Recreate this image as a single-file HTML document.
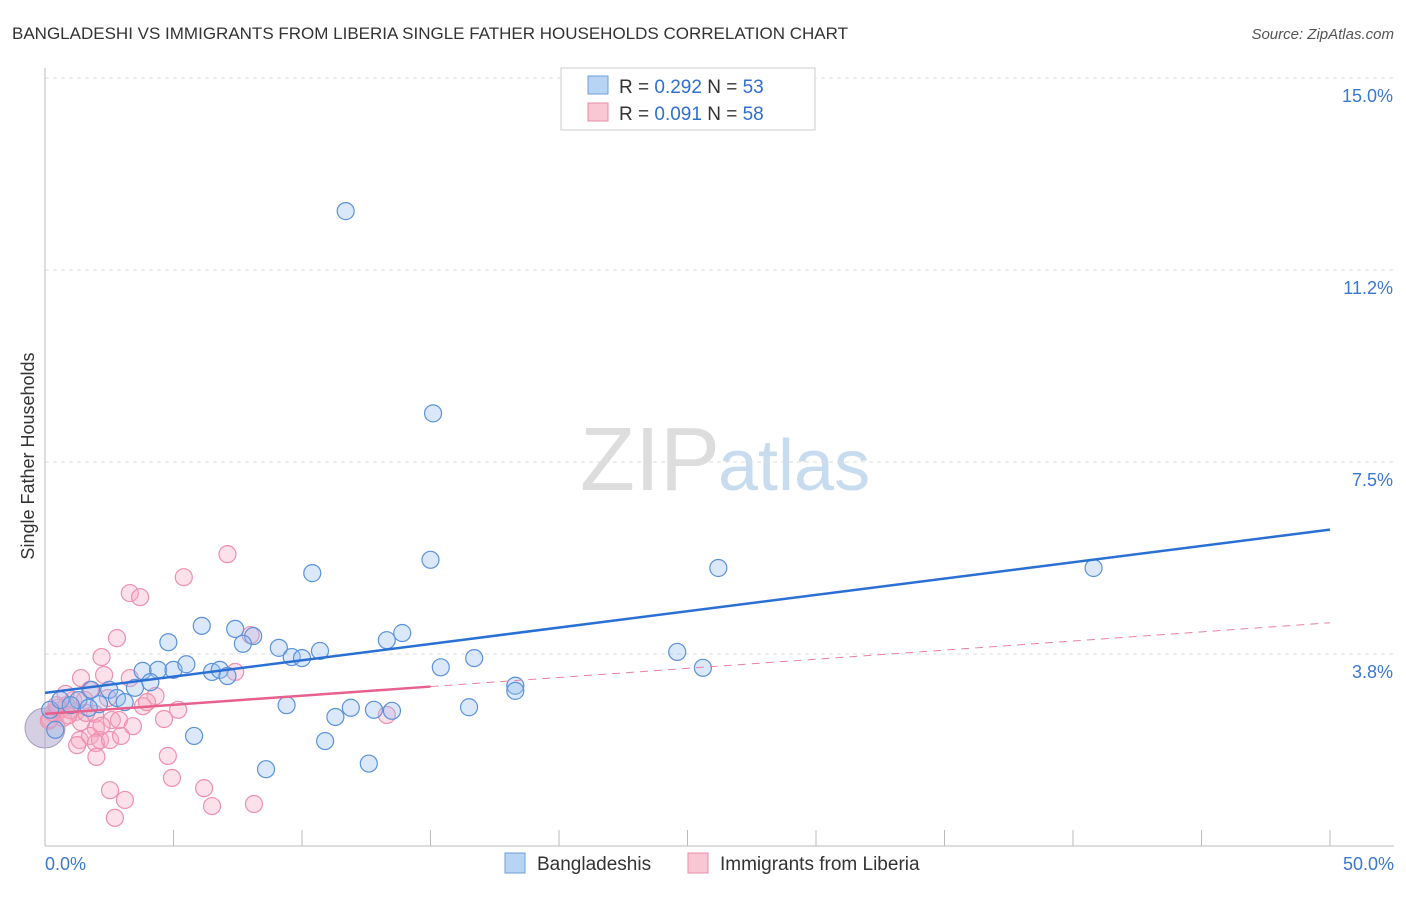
<!DOCTYPE html>
<html><head><meta charset="utf-8"><style>
body{margin:0;background:#fff;font-family:"Liberation Sans",sans-serif}
svg text{font-family:"Liberation Sans",sans-serif}
</style></head><body>
<svg id="c" width="1406" height="892">
<text x="12" y="39" font-size="17" fill="#333">BANGLADESHI VS IMMIGRANTS FROM LIBERIA SINGLE FATHER HOUSEHOLDS CORRELATION CHART</text>
<text x="1394" y="39" font-size="15" fill="#555" font-style="italic" text-anchor="end">Source: ZipAtlas.com</text>
<text x="34" y="456" font-size="18" fill="#333" text-anchor="middle" transform="rotate(-90 34 456)">Single Father Households</text>
<text x="720" y="490" font-size="90" fill="#ddd" text-anchor="end" font-family="Liberation Serif">ZIP</text>
<text x="718" y="490" font-size="72" fill="#c8dcf0">atlas</text>
<g id="grid"></g><g id="pts"></g><g id="lines"></g>
<g>
<rect x="561" y="68" width="254" height="62" fill="#fff" stroke="#ccc"/>
<rect x="588" y="76" width="20" height="18" fill="#b8d4f4" stroke="#6d9edc"/>
<rect x="588" y="103" width="20" height="18" fill="#f9c6d4" stroke="#ea8eaa"/>
<text x="619" y="93" font-size="19" fill="#333">R = <tspan fill="#2f6fd0">0.292</tspan>   N = <tspan fill="#2f6fd0">53</tspan></text>
<text x="619" y="120" font-size="19" fill="#333">R = <tspan fill="#2f6fd0">0.091</tspan>   N = <tspan fill="#2f6fd0">58</tspan></text>
</g>
<g>
<rect x="505" y="853" width="20" height="20" fill="#b8d4f4" stroke="#6d9edc"/>
<text x="537" y="870" font-size="19" fill="#333">Bangladeshis</text>
<rect x="688" y="853" width="20" height="20" fill="#f9c6d4" stroke="#ea8eaa"/>
<text x="720" y="870" font-size="19" fill="#333">Immigrants from Liberia</text>
</g>
</svg>
<script>
const yTicks=[3.75,7.5,11.25,15];
const yTickLabels=["3.8%","7.5%","11.2%","15.0%"];
const xTickLabels=["0.0%","50.0%"];
const blueX=[11.7,15.1,15,26.2,40.8,10.4,6.1,7.4,8.1,7.7,4.8,9.1,10.7,13.3,13.9,9.6,10,16.7,15.4,24.6,25.6,3.8,4.4,5,5.5,6.5,6.8,7.1,4.1,3.5,2.5,1.8,2.8,3.1,2.1,1.3,1.7,9.4,11.3,11.9,12.8,13.5,16.5,18.3,18.3,5.8,10.9,8.6,12.6,0.2,0.6,1,0.4];
const blueY=[12.4,8.45,5.59,5.43,5.43,5.33,4.3,4.24,4.1,3.95,3.98,3.87,3.81,4.02,4.16,3.69,3.67,3.67,3.49,3.79,3.48,3.42,3.44,3.44,3.55,3.4,3.44,3.32,3.2,3.09,3.05,3.05,2.89,2.81,2.77,2.85,2.7,2.75,2.52,2.7,2.66,2.64,2.71,3.13,3.03,2.15,2.05,1.5,1.61,2.66,2.85,2.75,2.27];
const pinkX=[7.1,5.4,3.3,3.7,2.8,2.2,1.4,2.3,3.3,4.3,7.4,8,1.1,0.8,1.75,1.55,0.6,0.85,0.4,0.2,1.2,1.95,2.45,2.6,1.4,1.98,1.35,1.75,2.14,1.25,1.98,2.53,2.96,2.88,3.42,3.81,4.63,5.18,3.97,2,4.78,4.94,2.53,3.11,6.19,6.5,2.72,8.13,13.3,0.3,0.5,0.7,1,0.9,0.15,0.45,2.2,1.6];
const pinkY=[5.7,5.25,4.94,4.86,4.06,3.69,3.28,3.34,3.28,2.93,3.4,4.12,2.85,2.97,3.05,2.85,2.66,2.75,2.58,2.48,2.62,2.58,2.89,2.46,2.42,2.3,2.07,2.15,2.07,1.97,2.01,2.07,2.15,2.46,2.34,2.73,2.48,2.66,2.81,1.74,1.76,1.33,1.09,0.9,1.13,0.78,0.55,0.82,2.56,2.6,2.7,2.5,2.65,2.55,2.45,2.75,2.35,2.6];
const blueLine=[2.99,6.18];
const pinkLine=[2.58,4.36];
const pinkSolidEnd=15;
const NS="http://www.w3.org/2000/svg";
const X=v=>45+v*25.7, Y=v=>846-v*51.2;
function mk(t,a,p){const e=document.createElementNS(NS,t);for(const k in a)e.setAttribute(k,a[k]);document.getElementById(p).appendChild(e);return e;}
yTicks.forEach((t,i)=>{
 const l=mk('line',{x1:45,x2:1394,y1:Y(t),y2:Y(t),stroke:'#ddd','stroke-dasharray':'4,4'},'grid');
 
 
 const tx=mk('text',{x:1393,y:Y(t)+24,'font-size':18,fill:'#3a78d0','text-anchor':'end'},'grid');
 tx.textContent=yTickLabels[i];
 
 
});
const ax=mk('line',{x1:45,x2:1394,y1:846,y2:846,stroke:'#bbb'},'grid');


const ay=mk('line',{x1:45,x2:45,y1:68,y2:846,stroke:'#bbb'},'grid');


for(let i=1;i<=10;i++){const t=mk('line',{x1:X(i*5),x2:X(i*5),y1:830,y2:846,stroke:'#bbb'},'grid');
 
 }
[[0,'start',45],[50,'end',1394]].forEach((d,i)=>{const t=mk('text',{x:d[2],y:870,'font-size':18,fill:'#3a78d0','text-anchor':d[1]},'grid');t.textContent=xTickLabels[i];
 
 });
const big=mk('circle',{cx:45,cy:728,r:20,fill:'rgba(170,160,200,0.5)',stroke:'#a99cc4'},'pts');


pinkX.forEach((x,i)=>{const c=mk('circle',{cx:X(x),cy:Y(pinkY[i]),r:8.5,fill:'rgba(246,170,195,0.35)',stroke:'#ee90ae','stroke-width':1.2},'pts');
 
 });
blueX.forEach((x,i)=>{const c=mk('circle',{cx:X(x),cy:Y(blueY[i]),r:8.5,fill:'rgba(150,190,240,0.35)',stroke:'#5b92dc','stroke-width':1.2},'pts');
 
 });
const bl=mk('line',{x1:X(0),y1:Y(blueLine[0]),x2:X(50),y2:Y(blueLine[1]),stroke:'#2a6fd4','stroke-width':2.5},'lines');


const pv=x=>pinkLine[0]+(pinkLine[1]-pinkLine[0])*x/50;
const pl=mk('line',{x1:X(0),y1:Y(pv(0)),x2:X(pinkSolidEnd),y2:Y(pv(pinkSolidEnd)),stroke:'#e8608c','stroke-width':2.5},'lines');


const pd=mk('line',{x1:X(pinkSolidEnd),y1:Y(pv(pinkSolidEnd)),x2:X(50),y2:Y(pv(50)),stroke:'#e8809f','stroke-width':1,'stroke-dasharray':'8,6'},'lines');


</script>
</body></html>
